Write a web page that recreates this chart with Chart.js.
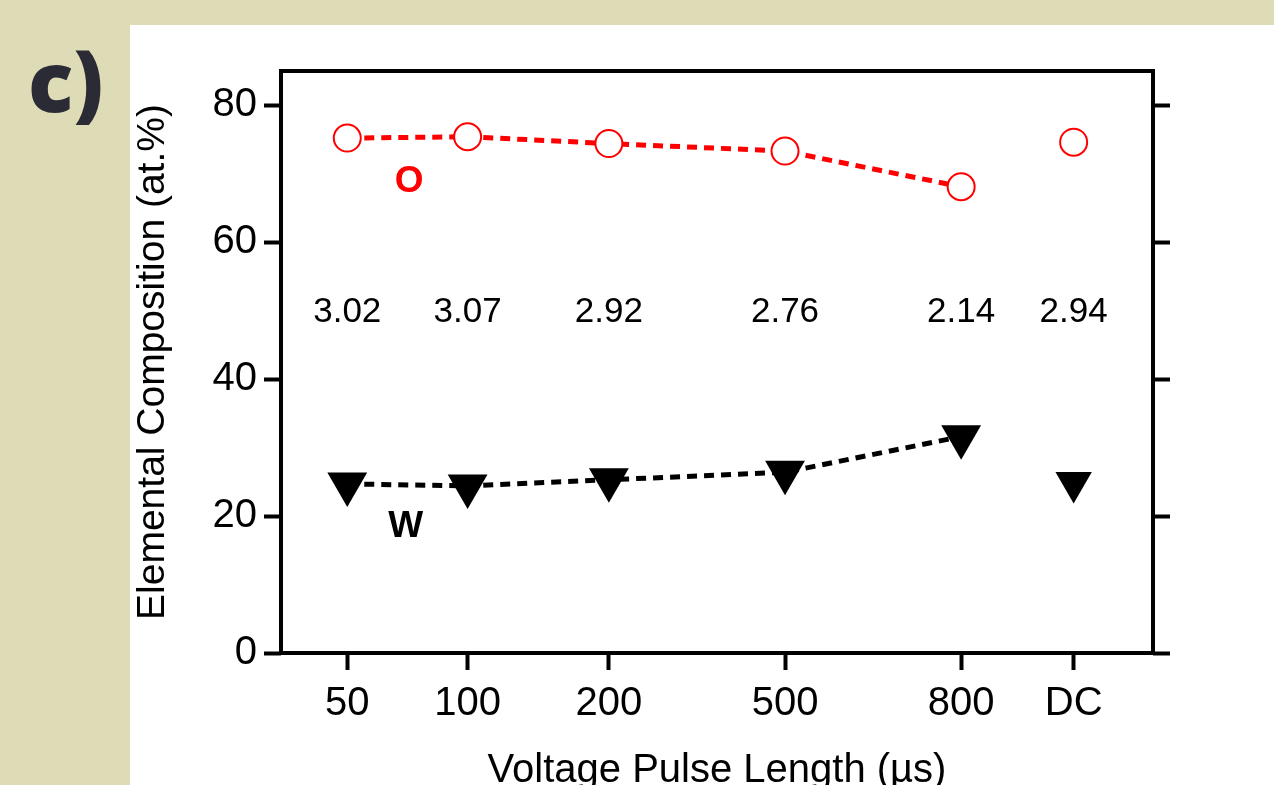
<!DOCTYPE html>
<html>
<head>
<meta charset="utf-8">
<script src="https://cdn.jsdelivr.net/npm/chart.js@4.4.1/dist/chart.umd.min.js"></script>
<style>
  html, body { margin: 0; padding: 0; width: 1274px; height: 785px; overflow: hidden; background: #dedcb6; }
  #panel { position: absolute; left: 130px; top: 25px; width: 1144px; height: 760px; background: #fff; overflow: hidden; }
  #etiqueta { position: absolute; left: 28px; top: 38px; font: 800 84px/84px "Open Sans", sans-serif; color: #2b2b36; }
  canvas { position: absolute; left: 0; top: 0; }
</style>
</head>
<body>
<div id="etiqueta">c)</div>
<div id="panel"><canvas id="grafico" width="1144" height="800"></canvas></div>
<script>
// Datos
const categorias = ['50', '100', '200', '500', '800', 'DC'];
const posicionesX = [0.76, 2.14, 3.76, 5.78, 7.8, 9.09]; // separación de las categorías en el eje
const oxigeno = [75.2, 75.4, 74.4, 73.3, 68.1, 74.6];
const wolframio = [24.7, 24.4, 25.3, 26.4, 31.6, 24.9];
const ratios = ['3.02', '3.07', '2.92', '2.76', '2.14', '2.94'];
const ticksY = [0, 20, 40, 60, 80];

const ROJO = '#ff0000';
const FUENTE = '"Liberation Sans", Arial, sans-serif';

// La serie DC no va unida con la línea punteada
const sinUltimo = color => ctx => ctx.p1DataIndex === categorias.length - 1 ? 'rgba(0,0,0,0)' : color;

// Textos dentro del gráfico y el marco
const etiquetas = {
    id: 'etiquetas',
    afterDatasetsDraw(chart) {
        const { ctx, scales: { x, y } } = chart;
        ctx.save();
        ctx.textAlign = 'center';
        ctx.textBaseline = 'middle';
        ctx.fillStyle = '#000';
        ctx.font = '35px ' + FUENTE;
        ratios.forEach((r, i) => {
            ctx.fillText(r, x.getPixelForValue(posicionesX[i]), y.getPixelForValue(49.7));
        });
        ctx.font = 'bold 37px ' + FUENTE;
        ctx.fillStyle = ROJO;
        ctx.fillText('O', x.getPixelForValue(1.47), y.getPixelForValue(68.8));
        ctx.fillStyle = '#000';
        ctx.fillText('W', x.getPixelForValue(1.43), y.getPixelForValue(18.4));
        ctx.restore();
    },
    afterDraw(chart) {
        const { ctx, chartArea: a } = chart;
        ctx.save();
        ctx.strokeStyle = '#000';
        ctx.lineWidth = 4;
        ctx.lineJoin = 'miter';
        ctx.strokeRect(a.left, a.top, a.right - a.left, a.bottom - a.top);
        ctx.restore();
    }
};

const rejilla = {
    drawOnChartArea: false,
    drawTicks: true,
    tickLength: 17,
    tickWidth: 4,
    tickColor: '#000'
};

new Chart(document.getElementById('grafico'), {
    type: 'line',
    data: {
        datasets: [
            {
                label: 'O',
                data: oxigeno.map((v, i) => ({ x: posicionesX[i], y: v })),
                borderColor: ROJO,
                borderWidth: 5,
                borderDash: [10, 7],
                segment: { borderColor: sinUltimo(ROJO) },
                pointStyle: 'circle',
                pointRadius: 13.5,
                pointBorderWidth: 2,
                pointBorderColor: ROJO,
                pointBackgroundColor: '#fff',
                tension: 0
            },
            {
                label: 'W',
                data: wolframio.map((v, i) => ({ x: posicionesX[i], y: v })),
                borderColor: '#000',
                borderWidth: 5,
                borderDash: [10, 7],
                segment: { borderColor: sinUltimo('#000') },
                pointStyle: 'triangle',
                pointRotation: 180,
                pointRadius: ctx => ctx.dataIndex === categorias.length - 1 ? 21 : 23,
                pointBorderWidth: 0,
                pointBackgroundColor: '#000',
                tension: 0
            }
        ]
    },
    options: {
        responsive: false,
        animation: false,
        events: [],
        layout: { padding: { top: 46, left: 0, right: 0, bottom: 0 } },
        plugins: { legend: { display: false }, tooltip: { enabled: false } },
        scales: {
            x: {
                type: 'linear',
                position: 'bottom',
                min: 0,
                max: 10,
                afterBuildTicks: s => { s.ticks = posicionesX.map(v => ({ value: v })); },
                afterFit: s => { s.height = 172; },
                ticks: {
                    callback: (v, i) => categorias[i],
                    autoSkip: false,
                    maxRotation: 0,
                    padding: 10,
                    color: '#000',
                    font: { family: FUENTE, size: 40 }
                },
                grid: rejilla,
                border: { display: false },
                title: {
                    display: true,
                    text: 'Voltage Pulse Length (µs)',
                    color: '#000',
                    font: { family: FUENTE, size: 40 },
                    padding: { top: 0, bottom: 30 }
                }
            },
            y: {
                type: 'linear',
                position: 'left',
                min: 0,
                max: 85,
                afterBuildTicks: s => { s.ticks = ticksY.map(v => ({ value: v })); },
                afterFit: s => { s.width = 151; },
                ticks: {
                    padding: 7,
                    color: '#000',
                    font: { family: FUENTE, size: 40 }
                },
                grid: rejilla,
                border: { display: false },
                title: {
                    display: true,
                    text: 'Elemental Composition (at.%)',
                    color: '#000',
                    font: { family: FUENTE, size: 39 },
                    padding: { top: 0, bottom: 0 }
                }
            },
            yDerecha: {
                type: 'linear',
                position: 'right',
                min: 0,
                max: 85,
                afterBuildTicks: s => { s.ticks = ticksY.map(v => ({ value: v })); },
                afterFit: s => { s.width = 121; },
                ticks: { display: false },
                grid: rejilla,
                border: { display: false }
            }
        }
    },
    plugins: [etiquetas]
});
</script>
</body>
</html>
